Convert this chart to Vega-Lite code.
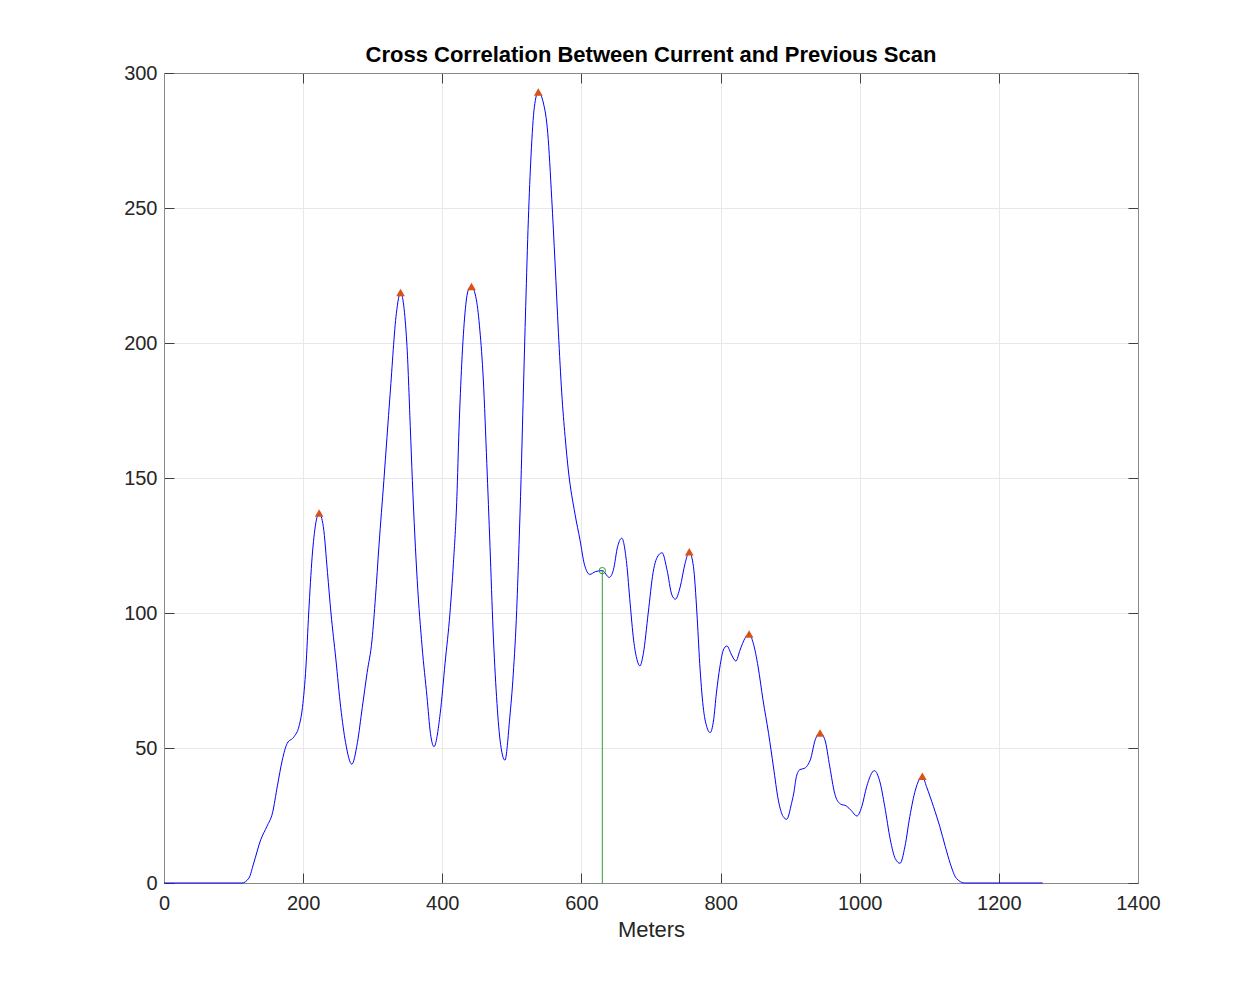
{
  "$schema": "https://vega.github.io/schema/vega-lite/v6.json",
  "width": 974,
  "height": 810,
  "autosize": {"type": "none"},
  "padding": {"left": 164, "top": 73, "right": 121, "bottom": 110},
  "background": "white",
  "title": {
    "text": "Cross Correlation Between Current and Previous Scan",
    "font": "Liberation Sans",
    "fontSize": 22,
    "fontWeight": "bold",
    "color": "#000000",
    "anchor": "middle",
    "offset": -4
  },
  "config": {
    "view": {"stroke": "#8a8a8a", "strokeWidth": 1},
    "axis": {
      "labelFont": "Liberation Sans",
      "labelFontSize": 20,
      "labelColor": "#262626",
      "labelFlush": false,
      "format": "d",
      "titleFont": "Liberation Sans",
      "titleFontSize": 22,
      "titleFontWeight": "normal",
      "titleColor": "#262626",
      "domainColor": "#8a8a8a",
      "tickColor": "#404040",
      "tickSize": -10,
      "gridColor": "#e8e8e8",
      "gridOpacity": 1
    }
  },
  "datasets": {
    "curve": [
      {"m": 0, "c": 0}, {"m": 112, "c": 0}, {"m": 122, "c": 1.8}, {"m": 129, "c": 7.4},
      {"m": 139, "c": 16}, {"m": 148, "c": 21}, {"m": 156, "c": 26}, {"m": 163, "c": 36},
      {"m": 170, "c": 45.5}, {"m": 177, "c": 51.7}, {"m": 187, "c": 54.2}, {"m": 194, "c": 58},
      {"m": 199, "c": 65}, {"m": 204, "c": 80}, {"m": 208, "c": 100}, {"m": 213, "c": 121},
      {"m": 218, "c": 133}, {"m": 223, "c": 137}, {"m": 229, "c": 132}, {"m": 235, "c": 115},
      {"m": 240, "c": 100}, {"m": 247, "c": 83}, {"m": 254, "c": 65}, {"m": 261, "c": 52},
      {"m": 270, "c": 44}, {"m": 278, "c": 52}, {"m": 285, "c": 65}, {"m": 292, "c": 78},
      {"m": 299, "c": 90}, {"m": 304, "c": 106}, {"m": 309, "c": 125}, {"m": 316, "c": 149},
      {"m": 325, "c": 181}, {"m": 334, "c": 211}, {"m": 340, "c": 218.7}, {"m": 349, "c": 200},
      {"m": 354, "c": 169}, {"m": 357, "c": 149}, {"m": 364, "c": 112}, {"m": 371, "c": 87.5},
      {"m": 378, "c": 69}, {"m": 383, "c": 55.4}, {"m": 388, "c": 50.5}, {"m": 397, "c": 62.8},
      {"m": 404, "c": 81.4}, {"m": 411, "c": 99.9}, {"m": 416, "c": 118.4}, {"m": 421, "c": 143},
      {"m": 424, "c": 167.8}, {"m": 428, "c": 192.5}, {"m": 432.6, "c": 211}, {"m": 437.4, "c": 219.6},
      {"m": 442, "c": 220.9}, {"m": 449, "c": 216}, {"m": 454, "c": 204.8}, {"m": 459, "c": 186.3},
      {"m": 464, "c": 155.4}, {"m": 468.6, "c": 124.6}, {"m": 473, "c": 93.7}, {"m": 478, "c": 69},
      {"m": 483, "c": 53}, {"m": 490, "c": 45.5}, {"m": 497, "c": 61.2}, {"m": 502, "c": 77.3},
      {"m": 507, "c": 101.3}, {"m": 510.3, "c": 125.4}, {"m": 513.2, "c": 149.4}, {"m": 516.5, "c": 181.5},
      {"m": 519.9, "c": 213.5}, {"m": 523.7, "c": 245.6}, {"m": 527.6, "c": 269.6}, {"m": 532.3, "c": 287.3},
      {"m": 538, "c": 293}, {"m": 545.3, "c": 288.9}, {"m": 551.6, "c": 277.7}, {"m": 557.3, "c": 253.6},
      {"m": 562.1, "c": 229.6}, {"m": 566.9, "c": 204}, {"m": 571.7, "c": 181.5}, {"m": 576.5, "c": 165.4},
      {"m": 581.3, "c": 152.6}, {"m": 590.8, "c": 136.6}, {"m": 598, "c": 127}, {"m": 604.2, "c": 118.1},
      {"m": 612, "c": 114.3}, {"m": 620, "c": 115.3}, {"m": 630, "c": 115.7}, {"m": 640, "c": 113.2},
      {"m": 646, "c": 116}, {"m": 652, "c": 124.6}, {"m": 658, "c": 127.7}, {"m": 665, "c": 118.4},
      {"m": 670, "c": 103.6}, {"m": 675, "c": 90}, {"m": 680, "c": 82.6}, {"m": 684, "c": 80.4},
      {"m": 689, "c": 85}, {"m": 696, "c": 100}, {"m": 703, "c": 115}, {"m": 711, "c": 121.5},
      {"m": 716, "c": 122.3}, {"m": 723, "c": 116}, {"m": 730, "c": 106.7}, {"m": 735, "c": 105.1},
      {"m": 742, "c": 109.7}, {"m": 749, "c": 118.4}, {"m": 755, "c": 122.7}, {"m": 761, "c": 117.2},
      {"m": 766, "c": 100}, {"m": 770, "c": 81.4}, {"m": 775, "c": 65.3}, {"m": 780, "c": 58},
      {"m": 785, "c": 55.7}, {"m": 790, "c": 60.4}, {"m": 794, "c": 70.3}, {"m": 799, "c": 80},
      {"m": 804, "c": 86.3}, {"m": 809, "c": 87.8}, {"m": 816, "c": 84.4}, {"m": 822, "c": 82.2},
      {"m": 828, "c": 86.3}, {"m": 835, "c": 90.6}, {"m": 841, "c": 92.2}, {"m": 847, "c": 88.8},
      {"m": 854, "c": 80}, {"m": 861, "c": 67.8}, {"m": 869, "c": 55.4}, {"m": 876, "c": 43},
      {"m": 883, "c": 30.7}, {"m": 890, "c": 24.6}, {"m": 895, "c": 23.6}, {"m": 902, "c": 29.5},
      {"m": 905, "c": 33}, {"m": 909, "c": 39.4}, {"m": 914, "c": 42}, {"m": 921, "c": 42.5},
      {"m": 926, "c": 44}, {"m": 929, "c": 45.6}, {"m": 936, "c": 53}, {"m": 943, "c": 55.6},
      {"m": 950, "c": 53}, {"m": 957, "c": 43}, {"m": 964, "c": 33.2}, {"m": 972, "c": 29.3},
      {"m": 981, "c": 28.5}, {"m": 988, "c": 26.8}, {"m": 996, "c": 24.8}, {"m": 1003, "c": 28.3},
      {"m": 1010, "c": 35.7}, {"m": 1021, "c": 41.6}, {"m": 1029, "c": 37.5}, {"m": 1036, "c": 28.3},
      {"m": 1044, "c": 16}, {"m": 1051, "c": 9.1}, {"m": 1058, "c": 7.3}, {"m": 1065, "c": 13.5},
      {"m": 1072, "c": 24.6}, {"m": 1080, "c": 34.4}, {"m": 1090, "c": 39.5}, {"m": 1096, "c": 35.7},
      {"m": 1106, "c": 28.3}, {"m": 1115, "c": 21}, {"m": 1123, "c": 13.5}, {"m": 1130, "c": 7.3},
      {"m": 1139, "c": 1.7}, {"m": 1151, "c": 0}, {"m": 1263, "c": 0}
    ],
    "peaks": [
      {"m": 223, "c": 137}, {"m": 340, "c": 218.7}, {"m": 442, "c": 220.9}, {"m": 538, "c": 293},
      {"m": 755, "c": 122.7}, {"m": 841, "c": 92.2}, {"m": 943, "c": 55.6}, {"m": 1090, "c": 39.5}
    ],
    "best": [
      {"m": 630, "c": 115.7, "base": 0}
    ]
  },
  "resolve": {"axis": {"x": "independent", "y": "independent"}},
  "layer": [
    {
      "encoding": {
        "x": {
          "field": "m", "type": "quantitative",
          "scale": {"domain": [0, 1400], "nice": false, "zero": false},
          "axis": {"orient": "bottom", "title": "Meters", "values": [0, 200, 400, 600, 800, 1000, 1200, 1400], "labelPadding": 20, "titlePadding": 6, "grid": true}
        },
        "y": {
          "field": "c", "type": "quantitative",
          "scale": {"domain": [0, 300], "nice": false},
          "axis": {"orient": "left", "title": null, "values": [0, 50, 100, 150, 200, 250, 300], "labelPadding": 17, "grid": true}
        }
      },
      "layer": [
        {
          "data": {"name": "curve"},
          "mark": {"type": "line", "color": "#0000ff", "strokeWidth": 1, "interpolate": "monotone"}
        },
        {
          "data": {"name": "best"},
          "mark": {"type": "rule", "color": "#2e9e2e", "strokeWidth": 1},
          "encoding": {"y2": {"field": "base"}}
        },
        {
          "data": {"name": "best"},
          "mark": {"type": "point", "shape": "circle", "filled": false, "color": "#2e9e2e", "strokeWidth": 1, "opacity": 1, "size": 40}
        }
      ]
    },
    {
      "data": {"name": "peaks"},
      "mark": {"type": "point", "shape": "triangle-up", "filled": true, "color": "#d95319", "opacity": 1, "size": 75},
      "encoding": {
        "x": {
          "field": "m", "type": "quantitative",
          "axis": {"orient": "top", "title": null, "labels": false, "grid": false, "values": [0, 200, 400, 600, 800, 1000, 1200, 1400]}
        },
        "y": {
          "field": "c", "type": "quantitative",
          "axis": {"orient": "right", "title": null, "labels": false, "grid": false, "values": [0, 50, 100, 150, 200, 250, 300]}
        }
      }
    }
  ]
}
